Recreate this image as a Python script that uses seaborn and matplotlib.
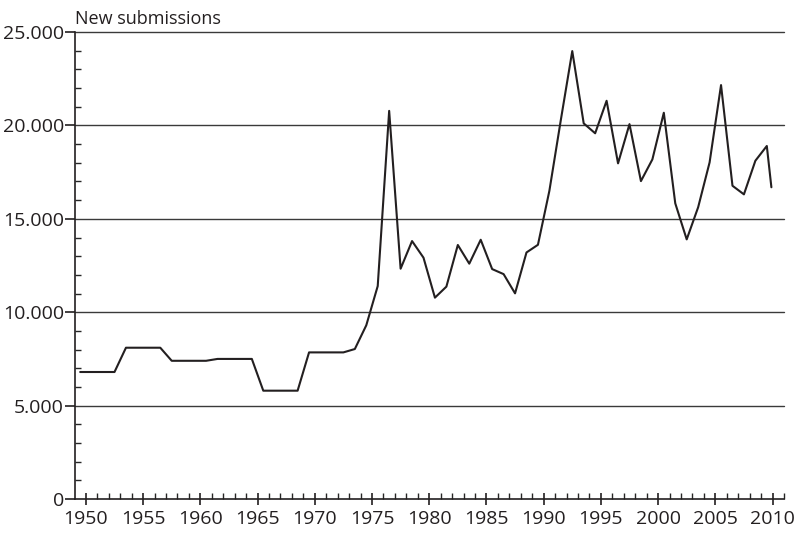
import numpy as np
import pandas as pd
import matplotlib
matplotlib.use("Agg")
import matplotlib.pyplot as plt
from matplotlib.ticker import MultipleLocator, FuncFormatter
import seaborn as sns

# yearly values are drawn at mid-year positions; the last point is a partial year
years = list(np.arange(1949.5, 2010.0, 1.0)) + [2009.9]
submissions = [
    6800, 6800, 6800, 6800,
    8100, 8100, 8100, 8100,
    7400, 7400, 7400, 7400,
    7500, 7500, 7500, 7500,
    5800, 5800, 5800, 5800,
    7850, 7850, 7850, 7850,
    8030, 9300, 11400, 20780, 12330, 13810, 12920, 10780, 11370, 13600,
    12600, 13880, 12310, 12040, 11010, 13200, 13610, 16500, 20290, 23980,
    20110, 19580, 21320, 17970, 20070, 17020, 18180, 20680, 15830, 13900,
    15620, 18020, 22160, 16770, 16310, 18110, 18900, 16690,
]
y_title = "New submissions"

df = pd.DataFrame({"year": years, "submissions": submissions})

sns.set_style("ticks")
plt.rcParams["font.family"] = ["Open Sans", "DejaVu Sans"]

fig = plt.figure(figsize=(7.99, 5.34), dpi=100)
ax = fig.add_axes([0.0939, 0.0655, 0.8873, 0.8745])

sns.lineplot(data=df, x="year", y="submissions", ax=ax, color="#231f20",
             linewidth=1.5, estimator=None, sort=False)

ax.set_xlim(1949.05, 2011.0)
ax.set_ylim(0, 25000)

ax.xaxis.set_major_locator(MultipleLocator(5))
ax.xaxis.set_minor_locator(MultipleLocator(1))
ax.yaxis.set_major_locator(MultipleLocator(5000))
ax.yaxis.set_minor_locator(MultipleLocator(1000))
ax.yaxis.set_major_formatter(FuncFormatter(lambda v, p: f"{int(v):,}".replace(",", ".")))

for v in [5000, 10000, 15000, 20000, 25000]:
    ax.axhline(v, color="#3a3a3a", linewidth=1.0, zorder=1, clip_on=False)

ax.tick_params(axis="x", which="major", direction="inout", length=8, width=1.2,
               labelsize=14, pad=4, colors="#231f20")
ax.tick_params(axis="x", which="minor", direction="in", length=4, width=1.0)
ax.tick_params(axis="y", which="major", direction="out", length=7, width=1.2,
               labelsize=14, pad=1, colors="#231f20")
ax.tick_params(axis="y", which="minor", direction="in", length=4, width=1.0)

for side in ["top", "right"]:
    ax.spines[side].set_visible(False)
for side in ["left", "bottom"]:
    ax.spines[side].set_color("#231f20")
    ax.spines[side].set_linewidth(1.2)

ax.set_xlabel("")
ax.set_ylabel("")
ax.text(0.0, 1.008, y_title, transform=ax.transAxes, ha="left", va="bottom",
        fontsize=13, color="#231f20")

fig.savefig("out.png", dpi=100)
